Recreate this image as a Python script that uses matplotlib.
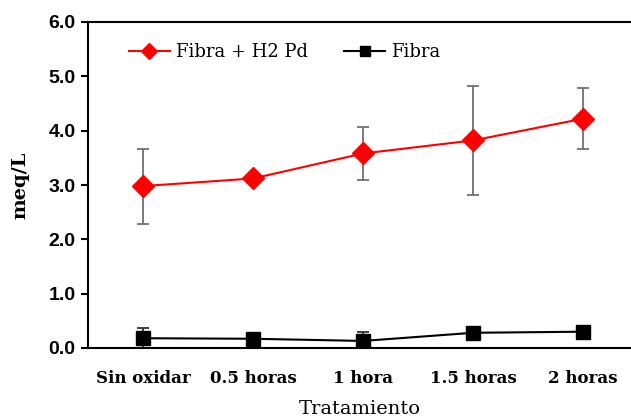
import matplotlib.pyplot as plt
import numpy as np

categories = ['Sin oxidar', '0.5 horas', '1 hora', '1.5 horas', '2 horas']
fibra_h2pd = [2.98, 3.12, 3.58, 3.82, 4.22]
fibra_h2pd_err = [0.69, 0.0, 0.49, 1.0, 0.56]
fibra = [0.18, 0.17, 0.13, 0.28, 0.30]
fibra_err = [0.19, 0.0, 0.16, 0.0, 0.0]
yticks = [0.0, 1.0, 2.0, 3.0, 4.0, 5.0, 6.0]

serif = ['DejaVu Serif']

fig = plt.figure(figsize=(6.31, 4.20), dpi=100)
ax = fig.add_axes([88/631, 1 - 348/420, 543/631, 326/420])

x = np.arange(len(categories))

# error bars only where there is an error
for vals, errs, col in [(fibra_h2pd, fibra_h2pd_err, '#707070'), (fibra, fibra_err, '#303030')]:
    vals, errs = np.array(vals), np.array(errs)
    m = errs > 0
    ax.errorbar(x[m], vals[m], yerr=errs[m], fmt='none', ecolor=col,
                elinewidth=1.3, capsize=4, capthick=1.3, zorder=2)

ax.plot(x, fibra_h2pd, color='#ff0000', marker='D', markersize=11, lw=1.5,
        label='Fibra + H2 Pd', zorder=3)
ax.plot(x, fibra, color='black', marker='s', markersize=10, lw=1.5,
        label='Fibra', zorder=3)

ax.set_xlim(-0.5, (631 - 143) / 110)
ax.set_ylim(0, 6)
ax.set_yticks(yticks)
ax.set_yticklabels(['%.1f' % v for v in yticks], fontweight='bold', fontsize=14,
                   family='Liberation Sans')
ax.set_xticks(x)
ax.set_xticklabels(categories, fontweight='bold', fontsize=12, family=serif)
ax.tick_params(axis='x', length=0, pad=16)
ax.tick_params(axis='y', direction='out', length=5, width=1.5, pad=4)

ax.spines['right'].set_visible(False)
for s in ['left', 'bottom', 'top']:
    ax.spines[s].set_linewidth(1.5)

ax.set_ylabel('meq/L', fontweight='bold', fontsize=14, family=serif, labelpad=14)
ax.set_xlabel('Tratamiento', fontsize=14, family=serif, labelpad=9)

ax.legend(loc='upper left', bbox_to_anchor=(0.045, 0.985), ncol=2, frameon=False,
          prop={'family': serif, 'size': 13}, handlelength=2.3,
          columnspacing=2.0, handletextpad=0.3, markerscale=0.7)

fig.savefig('out.png', dpi=100)
